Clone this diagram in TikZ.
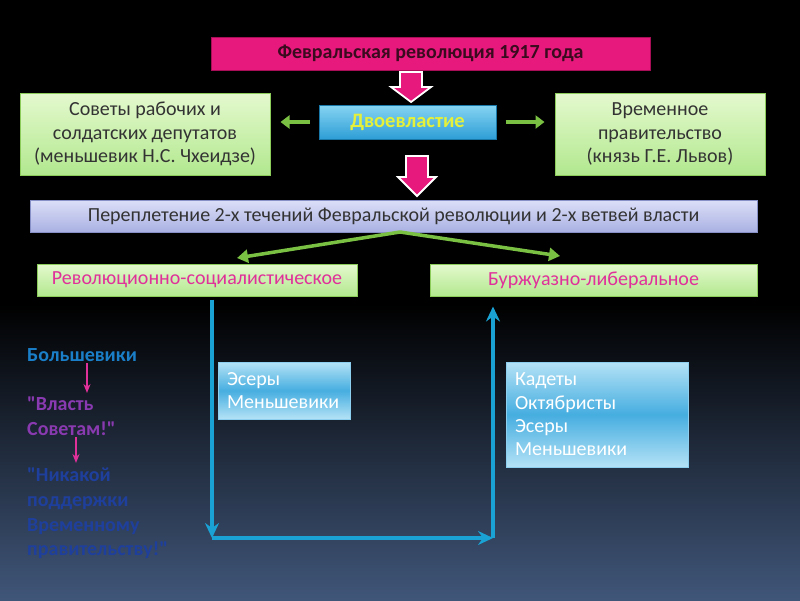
\documentclass[tikz,border=0pt]{standalone}
\usepackage{fontspec}
\setmainfont{Carlito}[Ligatures=TeXOff]
\usetikzlibrary{arrows.meta,calc}
\definecolor{titlepink}{HTML}{E8197D}
\definecolor{titleborder}{HTML}{A80E58}
\definecolor{titletext}{HTML}{3A0A1E}
\definecolor{dvtop}{HTML}{86D4F2}
\definecolor{dvbot}{HTML}{2E9ED6}
\definecolor{dvborder}{HTML}{1A78A8}
\definecolor{dvtext}{HTML}{E4F03A}
\definecolor{grtop}{HTML}{E4F9CE}
\definecolor{grbot}{HTML}{B2E88E}
\definecolor{grborder}{HTML}{8CCC5A}
\definecolor{grtext}{HTML}{333333}
\definecolor{grarrow}{HTML}{7AC143}
\definecolor{lvtop}{HTML}{DCDFF8}
\definecolor{lvbot}{HTML}{A9B1E2}
\definecolor{lvborder}{HTML}{8890C8}
\definecolor{magtext}{HTML}{E0309A}
\definecolor{blline}{HTML}{1AA2D4}
\definecolor{bltop}{HTML}{B4E2F6}
\definecolor{blmid}{HTML}{46AEE0}
\definecolor{blborder}{HTML}{8CCFEE}
\definecolor{bgbot}{HTML}{405679}
\definecolor{bolblue}{HTML}{1A7FC8}
\definecolor{vlpurple}{HTML}{8A3AB0}
\definecolor{nkblue}{HTML}{1F3F9C}
\begin{document}
\begin{tikzpicture}[x=1pt,y=-1pt,
  every node/.style={inner sep=0pt, align=center},
  txt/.style={font=\fontsize{20}{23.3}\selectfont},
  titlebox/.style={draw=titleborder, line width=1pt, fill=titlepink, text=titletext, font=\fontsize{20}{22}\selectfont\bfseries},
  dvbox/.style={draw=dvborder, line width=1pt, top color=dvtop, bottom color=dvbot, text=dvtext, font=\fontsize{20.5}{22}\selectfont\bfseries},
  grbox/.style={draw=grborder, line width=1pt, top color=grtop, bottom color=grbot, text=grtext, txt},
  lvbox/.style={draw=lvborder, line width=1pt, top color=lvtop, bottom color=lvbot, text=grtext, txt},
  blbox/.style={draw=blborder, line width=1pt, top color=bltop, bottom color=bltop, middle color=blmid, text=white, txt, align=left},
  pinkarrow/.style={draw=white, line width=1.8pt, fill=titlepink, line join=miter},
  grarr/.style={draw=grarrow, line width=4.5pt, -{Triangle[length=9pt,width=13pt]}},
  thinarr/.style={draw=grarrow, line width=3.5pt, -{Triangle[length=11pt,width=13pt]}},
  blarr/.style={draw=blline, line width=3.5pt, -{Stealth[length=15pt,width=14pt,inset=5pt]}},
  smarr/.style={draw=magtext, line width=1.8pt, -{Stealth[length=9pt,width=7pt]}},
  lefttxt/.style={anchor=north west, align=left, font=\fontsize{20}{24.6}\selectfont\bfseries}
]
\useasboundingbox (0,0) rectangle (800,600);
\fill[black] (0,0) rectangle (800,305);
\shade[top color=black, bottom color=bgbot] (0,304) rectangle (800,600);

% boxes
\node[titlebox, minimum width=439pt, minimum height=33pt] (title) at (430.5,53.5) {Февральская революция 1917 года};
\node[dvbox, minimum width=177pt, minimum height=34pt] (dv) at (407.5,122) {Двоевластие};
\node[grbox, minimum width=250pt, minimum height=82pt] (sov) at (145,134) {Советы рабочих и\\солдатских депутатов\\(меньшевик Н.С. Чхеидзе)};
\node[grbox, minimum width=210pt, minimum height=82pt] (vp) at (660,134) {Временное\\правительство\\(князь Г.Е. Львов)};
\node[lvbox, minimum width=727pt, minimum height=32pt] (lav) at (393.5,216) {Переплетение 2-х течений Февральской революции и 2-х ветвей власти};
\node[grbox, text=magtext, minimum width=320pt, minimum height=32pt] (rs) at (197,280) {Революционно-социалистическое};
\node[grbox, text=magtext, minimum width=327pt, minimum height=32pt] (bl) at (593.5,280) {Буржуазно-либеральное};
\node[blbox, minimum width=132pt, minimum height=57pt, text width=114pt] (es) at (284,390.5) {Эсеры\\Меньшевики};
\node[blbox, minimum width=182pt, minimum height=105pt, text width=164pt] (kd) at (597,414.5) {Кадеты\\Октябристы\\Эсеры\\Меньшевики};

% pink block arrows
\path[pinkarrow] (400,72) -- (422,72) -- (422,87) -- (431,87) -- (411,102) -- (391,87) -- (400,87) -- cycle;
\path[pinkarrow] (406,156) -- (428,156) -- (428,177) -- (436,177) -- (417,196) -- (398,177) -- (406,177) -- cycle;

% green arrows
\draw[grarr, shorten <=9pt, shorten >=10pt] (dv.west) -- (sov.east |- dv.west);
\draw[grarr, shorten <=9pt, shorten >=10pt] (dv.east) -- (vp.west |- dv.east);
\coordinate (split) at (400,232);
\coordinate (lt) at (237,258);
\coordinate (rt) at (560,256);
\draw[thinarr] (split) -- (lt);
\draw[thinarr] (split) -- (rt);

% blue connectors
\coordinate (c1) at (212,538);
\coordinate (c2) at (493,538);
\draw[blarr] (rs.south -| c1) ++(0,3) -- (c1);
\draw[blarr] (c1) -- (c2);
\draw[blarr] (c2) -- ($(bl.south -| c2)+(0,10)$);

% left texts
\node[lefttxt, text=bolblue] (bol) at (27,348) {Большевики};
\node[lefttxt, text=vlpurple] (vs) at (27,397) {"Власть\\Советам!"};
\node[lefttxt, text=nkblue] (nk) at (27,468) {"Никакой\\поддержки\\Временному\\правительству!"};
\coordinate (a1s) at (87,363);
\coordinate (a1e) at (87,393);
\coordinate (a2s) at (76,437);
\coordinate (a2e) at (76,463);
\draw[smarr] (a1s) -- (a1e);
\draw[smarr] (a2s) -- (a2e);
\end{tikzpicture}
\end{document}
